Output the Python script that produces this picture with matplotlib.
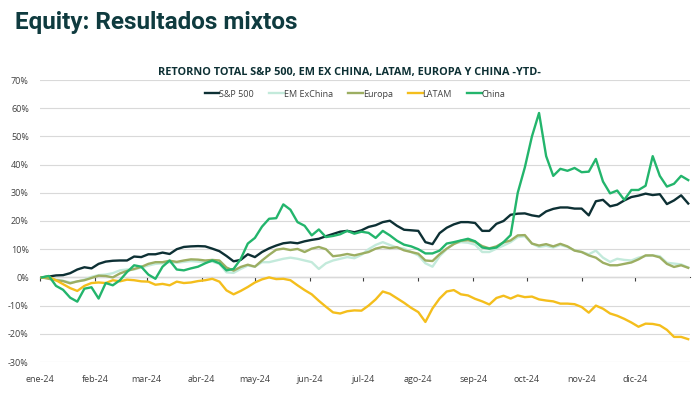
import pandas as pd
import matplotlib.pyplot as plt

# Fechas (cada 4 dias) y retornos YTD en %
fechas = pd.date_range("2024-01-02", periods=92, freq="4D")

sp500 = [0, 0.3, 0.7, 0.8, 1.5, 2.8, 3.6, 3.2, 4.8, 5.6,
         5.9, 6.0, 6.0, 7.4, 7.2, 8.2, 8.2, 8.8, 8.3, 10.0,
         10.8, 11.0, 11.1, 11.0, 10.2, 9.3, 7.6, 5.7, 6.2, 8.2,
         7.2, 9.0, 10.3, 11.3, 12.1, 12.4, 12.1, 12.8, 13.3, 13.7,
         14.6, 15.4, 16.2, 16.5, 16.0, 16.7, 17.9, 18.5, 19.6, 20.1,
         18.3, 16.9, 16.7, 16.5, 12.5, 11.8, 15.7, 17.6, 18.8, 19.6,
         19.6, 19.3, 16.5, 16.5, 19.0, 20.0, 22.2, 22.6, 22.7, 22.0,
         21.6, 23.4, 24.3, 24.8, 24.8, 24.4, 24.4, 22.0, 27.0, 27.5,
         25.2, 25.8, 27.3, 28.5, 29.0, 29.7, 29.2, 29.5, 26.0, 27.3,
         29.1, 26.2]

em_exchina = [0, -0.3, -0.8, -1.2, -1.8, -1.5, -0.8, 0.2, 0.8, 1.0,
              1.5, 2.5, 2.8, 2.8, 3.5, 4.2, 4.8, 5.0, 5.4, 5.2,
              5.5, 5.8, 5.6, 5.5, 5.6, 4.8, 1.8, 1.6, 3.0, 4.2,
              3.8, 5.4, 5.4, 6.0, 6.6, 7.0, 6.6, 6.0, 5.4, 3.0,
              5.0, 6.0, 6.6, 7.2, 6.8, 8.0, 10.0, 11.5, 12.5, 11.5,
              10.6, 10.2, 9.0, 7.8, 5.0, 3.8, 7.5, 10.0, 12.0, 12.5,
              12.3, 11.6, 9.0, 9.0, 10.2, 11.3, 12.5, 14.3, 14.6, 12.0,
              10.8, 11.2, 10.6, 11.5, 10.8, 9.6, 9.0, 8.2, 9.5, 7.0,
              5.5, 6.6, 6.2, 6.0, 7.0, 7.6, 7.8, 7.5, 5.2, 4.9,
              4.6, 3.5]

europa = [0, -0.5, -1.0, -1.3, -2.1, -1.4, -1.0, -0.2, 0.6, 0.5,
          0.0, 1.4, 2.3, 3.0, 3.7, 4.8, 5.4, 5.4, 5.9, 5.5,
          6.0, 6.4, 6.3, 6.0, 6.2, 6.0, 3.5, 2.4, 3.7, 4.5,
          3.8, 6.0, 8.0, 9.8, 10.2, 9.7, 10.1, 9.0, 10.2, 10.8,
          10.0, 7.5, 7.8, 8.3, 7.8, 8.4, 9.0, 10.2, 10.8, 10.4,
          10.7, 9.6, 9.0, 8.4, 6.0, 5.8, 8.2, 10.2, 11.8, 13.0,
          13.2, 12.6, 11.1, 10.3, 11.0, 12.4, 13.1, 14.9, 15.0, 12.0,
          11.3, 11.8, 11.0, 11.9, 11.0, 9.5, 9.0, 7.8, 7.0, 5.2,
          4.3, 4.3, 4.8, 5.3, 6.4, 7.8, 7.8, 7.1, 4.8, 3.7,
          4.3, 3.4]

latam = [0, 0.2, -1.0, -2.4, -3.8, -4.8, -3.0, -2.0, -1.8, -2.0,
         -1.0, -1.4, -0.8, -1.0, -1.4, -1.5, -2.6, -2.3, -2.8, -1.5,
         -2.0, -1.8, -1.3, -1.0, -0.5, -1.5, -4.6, -6.0, -4.8, -3.4,
         -1.8, -0.7, 0.0, -0.6, -0.5, -1.0, -2.8, -4.5, -6.0, -8.3,
         -10.4, -12.4, -12.8, -12.0, -11.7, -11.8, -10.0, -7.8, -5.0, -5.8,
         -7.4, -9.0, -10.8, -12.3, -15.8, -11.0, -7.5, -5.0, -4.5, -6.0,
         -6.4, -7.6, -8.5, -9.6, -7.3, -6.5, -7.5, -6.4, -7.0, -6.8,
         -7.8, -8.2, -8.5, -9.3, -9.3, -9.5, -10.5, -12.5, -10.0, -11.1,
         -12.8, -13.6, -14.7, -16.0, -17.5, -16.4, -16.5, -17.0, -18.6, -21.1,
         -21.1, -21.9]

china = [0, 0.5, -3.0, -4.4, -7.2, -8.6, -4.0, -3.5, -7.5, -2.0,
         -2.8, -1.0, 1.9, 4.3, 3.8, 1.0, -0.5, 3.8, 6.0, 2.8,
         2.5, 3.2, 3.8, 5.0, 6.0, 5.0, 2.5, 3.0, 6.5, 12.0,
         14.0, 18.0, 20.8, 21.0, 25.9, 24.0, 19.6, 18.3, 14.9, 17.0,
         14.3, 14.7, 15.3, 16.5, 15.5, 16.2, 15.8, 14.0, 16.5, 14.9,
         13.0, 11.6, 11.0, 10.0, 8.5, 8.5, 9.5, 12.0, 12.5, 13.1,
         13.7, 12.8, 10.6, 10.2, 10.6, 12.5, 15.0, 30.0, 39.0, 50.0,
         58.3, 43.0, 36.0, 38.5, 37.8, 38.8, 37.3, 37.5, 42.0, 34.0,
         29.8, 30.8, 27.5, 31.0, 31.0, 32.5, 43.0, 36.0, 32.2, 33.2,
         36.0, 34.5]

series = ["S&P 500", "EM ExChina", "Europa", "LATAM", "China"]
colores = ["#0d3034", "#c3eadb", "#9cae62", "#f4be1c", "#23b56c"]
meses = ["ene-24", "feb-24", "mar-24", "abr-24", "may-24", "jun-24",
         "jul-24", "ago-24", "sep-24", "oct-24", "nov-24", "dic-24"]

plt.rcParams["font.family"] = ["Open Sans", "DejaVu Sans"]

fig = plt.figure(figsize=(6.98, 3.97), dpi=100)
ax = fig.add_axes([40 / 698, 35 / 397, 650 / 698, 282 / 397])

for nombre, valores, color in zip(series, [sp500, em_exchina, europa, latam, china], colores):
    ax.plot(fechas, valores, color=color, lw=1.7, label=nombre, solid_joinstyle="round")

ax.set_xlim(pd.Timestamp("2024-01-01"), pd.Timestamp("2025-01-01"))
ax.set_ylim(-30, 70)
ax.set_yticks(range(-30, 71, 10))
ax.set_yticklabels([f"{v}%" for v in range(-30, 71, 10)])
ax.grid(axis="y", color="#d9d9d9", lw=0.8)
ax.set_axisbelow(True)
for s in ax.spines.values():
    s.set_visible(False)

marcas = pd.date_range("2024-01-01", periods=12, freq="MS")
ax.set_xticks(marcas)
ax.set_xticklabels(meses)
ax.tick_params(axis="both", length=0, labelsize=6.5, colors="#404040")
ax.tick_params(axis="x", pad=9)
ax.tick_params(axis="y", pad=8)

# eje horizontal en 0% con marcas
eje0 = ax.secondary_xaxis(0.3)
eje0.set_xticks(marcas)
eje0.tick_params(axis="x", direction="out", length=3, color="#404040", labelbottom=False)
eje0.spines["bottom"].set_color("#404040")
eje0.spines["bottom"].set_linewidth(0.8)

ax.legend(loc="upper center", bbox_to_anchor=(0.485, 0.995), ncol=5, frameon=False,
          fontsize=6.5, handlelength=1.6, handletextpad=0.0, columnspacing=1.7,
          labelcolor="#404040")

fig.text(0.5, 1 - 72 / 397, "RETORNO TOTAL S&P 500, EM EX CHINA, LATAM, EUROPA Y CHINA -YTD-",
         ha="center", va="center", fontsize=7.8, fontweight="bold", color="#0d3034")
fig.text(15 / 698, 1 - 22 / 397, "Equity: Resultados mixtos", ha="left", va="center",
         fontsize=17.5, fontweight="bold", color="#0f3b3f", family="Roboto")

plt.savefig("out.png", dpi=100)
plt.close()
